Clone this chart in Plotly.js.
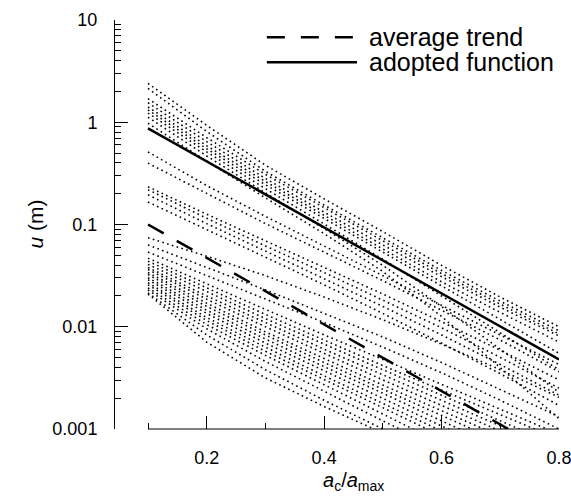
<!DOCTYPE html>
<html>
<head>
<meta charset="utf-8">
<script src="https://cdn.plot.ly/plotly-3.0.1.min.js"></script>
<style>html,body{margin:0;padding:0;background:#fff;}#chart{width:571px;height:497px;}</style>
</head>
<body>
<div id="chart"></div>
<script>
// x values: a_c / a_max
const aRatio = [0.1, 0.2, 0.3, 0.4, 0.5, 0.6, 0.7, 0.8];

// individual records (u in m), dotted
const rec01 = [2.40, 0.933, 0.380, 0.178, 0.0851, 0.0398, 0.0195, 0.0100];
const rec02 = [2.14, 0.813, 0.331, 0.155, 0.0741, 0.0355, 0.0178, 0.00912];
const rec03 = [1.55, 0.646, 0.282, 0.132, 0.0631, 0.0309, 0.0155, 0.00813];
const rec04 = [1.41, 0.589, 0.263, 0.123, 0.0575, 0.0275, 0.0138, 0.00708];
const rec05 = [1.32, 0.550, 0.245, 0.115, 0.0537, 0.0251, 0.0117, 0.00550];
const rec06 = [1.23, 0.513, 0.224, 0.102, 0.0457, 0.0200, 0.00871, 0.00380];
const rec07 = [1.12, 0.468, 0.204, 0.0912, 0.0398, 0.0158, 0.00603, 0.00229];
const rec08 = [0.977, 0.417, 0.182, 0.0813, 0.0347, 0.0126, 0.00398, 0.00126];
const rec09 = [1.70, 0.708, 0.309, 0.145, 0.0692, 0.0331, 0.0166, 0.00851];
const rec10 = [0.513, 0.240, 0.120, 0.0617, 0.0316, 0.0162, 0.00832, 0.00427];
const rec11 = [0.398, 0.200, 0.102, 0.0537, 0.0282, 0.0145, 0.00741, 0.00363];
const rec12 = [0.234, 0.126, 0.0692, 0.0380, 0.0209, 0.0112, 0.00589, 0.00302];
const rec13 = [0.219, 0.115, 0.0617, 0.0339, 0.0182, 0.00977, 0.00501, 0.00251];
const rec14 = [0.195, 0.102, 0.0550, 0.0295, 0.0158, 0.00832, 0.00427, 0.00214];
const rec15 = [0.166, 0.0891, 0.0479, 0.0257, 0.0135, 0.00692, 0.00347, 0.00170];
const rec16 = [0.0741, 0.0490, 0.0316, 0.0195, 0.0117, 0.00676, 0.00380, 0.00204];
const rec17 = [0.0631, 0.0380, 0.0229, 0.0135, 0.00794, 0.00447, 0.00245, 0.00132];
const rec18 = [0.0537, 0.0316, 0.0186, 0.0110, 0.00631, 0.00355, 0.00191, 0.00100];
const rec19 = [0.0468, 0.0263, 0.0148, 0.00832, 0.00479, 0.00275, 0.00158, 0.000891];
const rec20 = [0.0437, 0.0240, 0.0132, 0.00741, 0.00417, 0.00240, 0.00138, 0.000794];
const rec21 = [0.0407, 0.0219, 0.0120, 0.00676, 0.00380, 0.00214, 0.00120, 0.000676];
const rec22 = [0.0380, 0.0200, 0.0110, 0.00603, 0.00339, 0.00191, 0.00107, 0.000603];
const rec23 = [0.0363, 0.0186, 0.0100, 0.00550, 0.00302, 0.00170, 0.000955, 0.000537];
const rec24 = [0.0339, 0.0170, 0.00891, 0.00490, 0.00269, 0.00151, 0.000851, 0.000479];
const rec25 = [0.0324, 0.0158, 0.00832, 0.00447, 0.00245, 0.00135, 0.000741, 0.000417];
const rec26 = [0.0302, 0.0145, 0.00759, 0.00407, 0.00224, 0.00120, 0.000661, 0.000363];
const rec27 = [0.0288, 0.0135, 0.00692, 0.00372, 0.00200, 0.00107, 0.000589, 0.000316];
const rec28 = [0.0269, 0.0123, 0.00631, 0.00331, 0.00178, 0.000955, 0.000513, 0.000275];
const rec29 = [0.0257, 0.0115, 0.00575, 0.00302, 0.00158, 0.000832, 0.000447, 0.000240];
const rec30 = [0.0240, 0.0105, 0.00525, 0.00269, 0.00138, 0.000724, 0.000380, 0.000200];
const rec31 = [0.0229, 0.00955, 0.00457, 0.00234, 0.00120, 0.000631, 0.000331, 0.000174];
const rec32 = [0.0214, 0.00832, 0.00380, 0.00191, 0.00100, 0.000525, 0.000275, 0.000145];
const rec33 = [0.0209, 0.00708, 0.00316, 0.00166, 0.000912, 0.000501, 0.000275, 0.000151];

// summary curves
const averageTrend = [0.1, 0.0472, 0.0223, 0.0105, 0.00497, 0.00234, 0.00111, 0.000523];
const adoptedFunction = [0.871, 0.414, 0.197, 0.0935, 0.0445, 0.0211, 0.0100, 0.00479];

const yTickVals = [0.001, 0.01, 0.1, 1, 10];
const yTickText = ["0.001", "0.01", "0.1", "1", "10"];
const xTickVals = [0.2, 0.4, 0.6, 0.8];
const xTickText = ["0.2", "0.4", "0.6", "0.8"];
const legendLabels = ["average trend", "adopted function"];

const records = [rec01, rec02, rec03, rec04, rec05, rec06, rec07, rec08, rec09, rec10,
  rec11, rec12, rec13, rec14, rec15, rec16, rec17, rec18, rec19, rec20, rec21, rec22,
  rec23, rec24, rec25, rec26, rec27, rec28, rec29, rec30, rec31, rec32, rec33];

const traces = records.map(r => ({
  x: aRatio, y: r, type: 'scatter', mode: 'lines', showlegend: false, hoverinfo: 'skip',
  line: {color: '#000', width: 1.6, dash: '1.6px,3.4px'}
}));
traces.push({x: aRatio, y: averageTrend, type: 'scatter', mode: 'lines', showlegend: false,
  hoverinfo: 'skip', line: {color: '#000', width: 2.5, dash: '18px,15px'}});
traces.push({x: aRatio, y: adoptedFunction, type: 'scatter', mode: 'lines', showlegend: false,
  hoverinfo: 'skip', line: {color: '#000', width: 2.5}});

const font = {family: 'Liberation Sans, Arial, sans-serif', color: '#000', weight: 'normal'};

const layout = {
  width: 571, height: 497,
  margin: {l: 115, r: 12, t: 20, b: 68, pad: 0},
  paper_bgcolor: '#fff', plot_bgcolor: '#fff',
  font: Object.assign({size: 18}, font),
  showlegend: false,
  xaxis: {
    range: [0.0438, 0.8], showgrid: false, zeroline: false, showline: false,
    tickmode: 'array', tickvals: xTickVals, ticktext: xTickText,
    ticks: 'inside', ticklen: 13, tickwidth: 1, tickcolor: '#000',
    ticklabelstandoff: 16, ticklabeloverflow: 'allow',
    tickfont: Object.assign({size: 18}, font),
    minor: {tickmode: 'array', tickvals: [0.1, 0.3, 0.5, 0.7], ticks: 'inside', ticklen: 6, tickwidth: 1, tickcolor: '#000', showgrid: false}
  },
  yaxis: {
    type: 'log', range: [-3, 1], showgrid: false, zeroline: false,
    showline: true, linecolor: '#000', linewidth: 1,
    tickmode: 'array', tickvals: yTickVals, ticktext: yTickText,
    ticks: 'inside', ticklen: 13, tickwidth: 1, tickcolor: '#000',
    ticklabelstandoff: 13, ticklabeloverflow: 'allow',
    tickfont: Object.assign({size: 18}, font),
    minor: {dtick: 'D1', ticks: 'inside', ticklen: 6, tickwidth: 1, tickcolor: '#000', showgrid: false}
  },
  shapes: [
    {type: 'line', xref: 'x', yref: 'paper', x0: 0.1, x1: 0.8, y0: 0, y1: 0, line: {color: '#000', width: 1}},
    {type: 'line', xref: 'paper', yref: 'paper', x0: 0.342, x1: 0.545, y0: 0.958, y1: 0.958, line: {color: '#000', width: 2.5, dash: '18px,16px'}},
    {type: 'line', xref: 'paper', yref: 'paper', x0: 0.342, x1: 0.545, y0: 0.897, y1: 0.897, line: {color: '#000', width: 2.5}}
  ],
  annotations: [
    {xref: 'paper', yref: 'paper', x: 0.568, y: 0.958, xanchor: 'left', yanchor: 'middle', showarrow: false,
     text: legendLabels[0], font: Object.assign({size: 25}, font)},
    {xref: 'paper', yref: 'paper', x: 0.568, y: 0.897, xanchor: 'left', yanchor: 'middle', showarrow: false,
     text: legendLabels[1], font: Object.assign({size: 25}, font)},
    {xref: 'x', yref: 'paper', x: 0.45, y: 0, yshift: -38, xanchor: 'center', yanchor: 'top', showarrow: false,
     text: '<i>a</i><sub>c</sub>/<i>a</i><sub>max</sub>', font: Object.assign({size: 20}, font)},
    {xref: 'paper', yref: 'paper', x: 0, y: 0.5, xshift: -80, xanchor: 'center', yanchor: 'middle', showarrow: false,
     textangle: -90, text: '<i>u</i> (m)', font: Object.assign({size: 21}, font)}
  ]
};

Plotly.newPlot('chart', traces, layout, {staticPlot: true, displayModeBar: false});
</script>
</body>
</html>
